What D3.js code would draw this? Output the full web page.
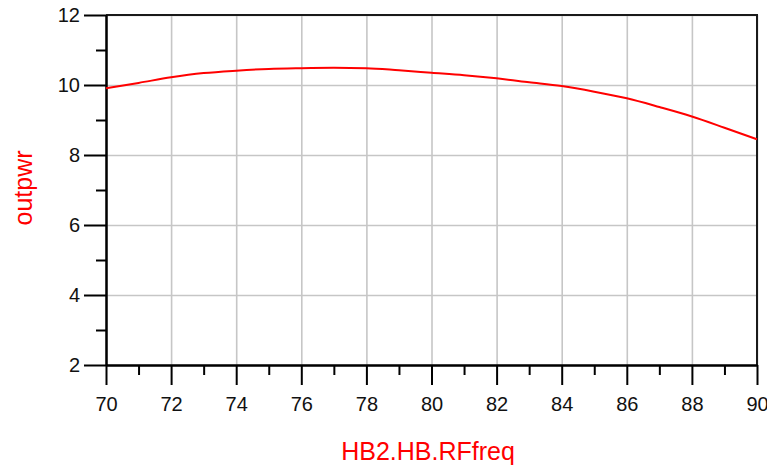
<!DOCTYPE html>
<html>
<head>
<meta charset="utf-8">
<script src="https://cdn.jsdelivr.net/npm/d3@7"></script>
<style>
  body { margin: 0; background: #fff; }
  svg { display: block; font-family: "Liberation Sans", Arial, sans-serif; }
  .grid line { stroke: #c6c6c6; stroke-width: 1.6px; }
  .grid .domain { display: none; }
  .axis path, .axis line { stroke: #000; stroke-width: 2px; }
  .axis text { fill: #111; font-size: 20px; }
</style>
</head>
<body>
<div id="chart-area"></div>
<script>
// sweep of RF frequency vs output power
const freq = [70, 71, 72, 73, 74, 75, 76, 77, 78, 79, 80, 81, 82, 83, 84, 85, 86, 87, 88, 89, 90]
const outpwr = [9.91, 10.06, 10.22, 10.34, 10.41, 10.46, 10.48, 10.49, 10.48, 10.42, 10.35,
  10.28, 10.19, 10.08, 9.97, 9.81, 9.62, 9.37, 9.10, 8.78, 8.45]
const xTicks = [70, 72, 74, 76, 78, 80, 82, 84, 86, 88, 90]
const xMinor = [71, 73, 75, 77, 79, 81, 83, 85, 87, 89]
const yTicks = [2, 4, 6, 8, 10, 12]
const yMinor = [3, 5, 7, 9, 11]

const MARGIN = { LEFT: 106, RIGHT: 10, TOP: 15, BOTTOM: 105 }
const WIDTH = 767 - MARGIN.LEFT - MARGIN.RIGHT
const HEIGHT = 470 - MARGIN.TOP - MARGIN.BOTTOM

const svg = d3.select("#chart-area").append("svg")
  .attr("width", 767)
  .attr("height", 470)

const g = svg.append("g")
  .attr("transform", `translate(${MARGIN.LEFT}, ${MARGIN.TOP})`)

// scales
const x = d3.scaleLinear().domain([70, 90]).range([0, WIDTH])
const y = d3.scaleLinear().domain([2, 12]).range([HEIGHT, 0])

// grid
g.append("g")
  .attr("class", "grid")
  .attr("transform", `translate(0, ${HEIGHT})`)
  .call(d3.axisBottom(x).tickValues(xTicks).tickSize(-HEIGHT).tickFormat(""))
g.append("g")
  .attr("class", "grid")
  .call(d3.axisLeft(y).tickValues(yTicks).tickSize(-WIDTH).tickFormat(""))

// frame on top and right
g.append("path")
  .attr("fill", "none")
  .attr("stroke", "#1a1a1a")
  .attr("stroke-width", 2)
  .attr("d", `M0,0H${WIDTH}V${HEIGHT}`)

// minor ticks
g.append("g")
  .attr("class", "axis")
  .attr("transform", `translate(0, ${HEIGHT})`)
  .call(d3.axisBottom(x).tickValues(xMinor).tickSize(10).tickSizeOuter(0).tickFormat(""))
g.append("g")
  .attr("class", "axis")
  .call(d3.axisLeft(y).tickValues(yMinor).tickSize(10).tickSizeOuter(0).tickFormat(""))

// main axes
g.append("g")
  .attr("class", "axis")
  .attr("transform", `translate(0, ${HEIGHT})`)
  .call(d3.axisBottom(x).tickValues(xTicks).tickSize(20).tickSizeOuter(0).tickPadding(12))
g.append("g")
  .attr("class", "axis")
  .call(d3.axisLeft(y).tickValues(yTicks).tickSize(22).tickSizeOuter(0).tickPadding(4))

// data line
const line = d3.line()
  .x((d, i) => x(freq[i]))
  .y(d => y(d))
  .curve(d3.curveMonotoneX)

g.append("path")
  .attr("fill", "none")
  .attr("stroke", "#ff0000")
  .attr("stroke-width", 2)
  .attr("d", line(outpwr))

// labels
svg.append("text")
  .attr("x", 428)
  .attr("y", 460)
  .attr("text-anchor", "middle")
  .attr("fill", "#ff0000")
  .style("font-size", "25px")
  .text("HB2.HB.RFfreq")

svg.append("text")
  .attr("transform", "translate(32, 188) rotate(-90)")
  .attr("text-anchor", "middle")
  .attr("fill", "#ff0000")
  .style("font-size", "25px")
  .text("outpwr")
</script>
</body>
</html>
